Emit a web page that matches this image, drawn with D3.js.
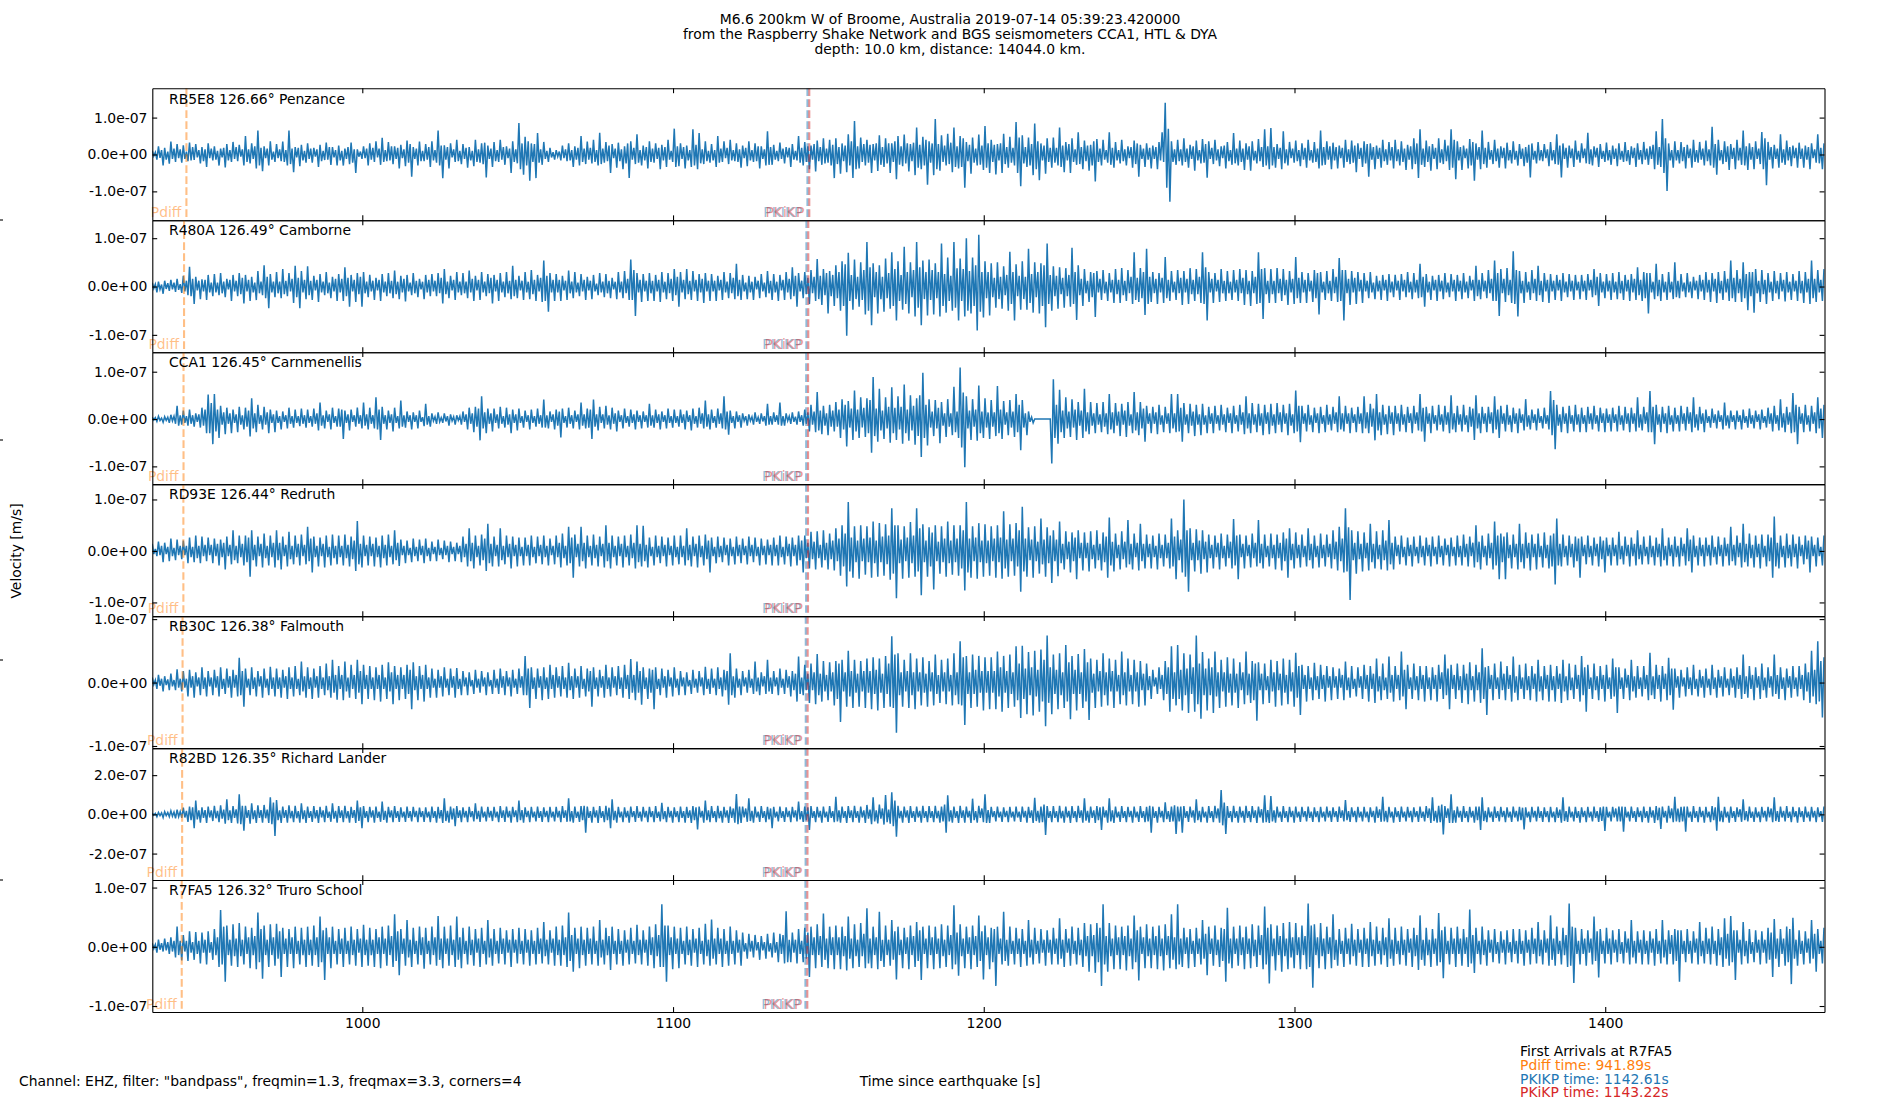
<!DOCTYPE html>
<html>
<head>
<meta charset="utf-8">
<script src="https://cdn.jsdelivr.net/npm/d3@7"></script>
<style>
  body { margin: 0; background: #fff; }
  svg text { font-family: "DejaVu Sans", sans-serif; font-size: 13.9px; }
</style>
</head>
<body>
<div id="chart"></div>
<script>

// Seismograms, M6.6 W of Broome, seen from Cornwall stations

const stations = ["RB5E8", "R480A", "CCA1", "RD93E", "RB30C", "R82BD", "R7FA5"];
const distances = ["126.66", "126.49", "126.45", "126.44", "126.38", "126.35", "126.32"];
const places = ["Penzance", "Camborne", "Carnmenellis", "Redruth", "Falmouth", "Richard Lander", "Truro School"];

// arrival times [s] per station
const pdiffTimes = [943.40, 942.64, 942.47, 942.42, 942.16, 942.02, 941.89];
const pkikpTimes = [1143.26, 1142.93, 1142.86, 1142.84, 1142.72, 1142.67, 1142.61];
const pkikpiTimes = [1143.85, 1143.53, 1143.46, 1143.44, 1143.33, 1143.28, 1143.22];

// y limits [m/s] and y ticks per panel
const yLimits = [[-1.783e-7, 1.794e-7], [-1.359e-7, 1.371e-7], [-1.376e-7, 1.412e-7], [-1.266e-7, 1.297e-7],
  [-1.033e-7, 1.047e-7], [-3.35e-7, 3.38e-7], [-1.101e-7, 1.127e-7]];
const yTickValues = [[-1e-7, 0, 1e-7], [-1e-7, 0, 1e-7], [-1e-7, 0, 1e-7], [-1e-7, 0, 1e-7],
  [-1e-7, 0, 1e-7], [-2e-7, 0, 2e-7], [-1e-7, 0, 1e-7]];
const xTicks = [1000, 1100, 1200, 1300, 1400];
const xDomain = [932.42, 1470.57];

// traces, one value every half second from timeStart, in nm/s (20 values = 10 s per row)
const timeStart = 932.4;
const timeStep = 0.5;

const waveRB5E8 = [
10,-4,6,-14,22,-9,12,-30,18,-14,8,-25,35,-12,16,-20,28,-10,14,-22,
25,-12,8,-18,32,-16,20,-15,28,-8,12,-24,20,-18,14,-34,30,-10,16,-16,
22,-14,10,-30,16,-8,18,-35,28,-16,12,-20,34,-12,20,-18,26,-6,14,-30,
50,-20,14,-24,30,-12,22,-38,65,-30,18,-45,22,-10,16,-30,36,-14,8,-20,
28,-10,14,-18,35,-20,12,-30,65,-26,16,-48,20,-8,18,-32,26,-16,10,-22,
30,-12,16,-22,18,-6,14,-34,26,-18,10,-15,32,-14,20,-28,20,-8,12,-30,
24,-16,10,-30,16,-12,20,-26,32,-22,14,-50,14,-6,8,-12,22,-10,16,-30,
30,-14,18,-20,36,-8,16,-28,45,-20,12,-18,34,-16,22,-26,22,-12,18,-38,
26,-10,14,-32,38,-22,28,-60,20,-12,16,-30,35,-18,10,-18,28,-14,20,-34,
36,-16,12,-22,65,-30,24,-64,25,-14,20,-38,30,-8,14,-20,40,-18,10,-26,
28,-12,18,-36,20,-16,10,-32,40,-20,14,-22,30,-26,32,-62,24,-12,16,-34,
34,-18,12,-20,40,-14,20,-28,22,-10,16,-50,36,-20,14,-24,85,-40,30,-55,
48,-30,36,-71,30,-20,28,-64,58,-22,14,-28,34,-12,10,-20,18,-8,6,-14,
12,-6,8,-16,24,-10,14,-18,30,-16,12,-34,22,-14,18,-30,50,-20,16,-26,
35,-14,18,-24,40,-20,12,-30,59,-26,16,-22,34,-18,24,-50,28,-10,16,-36,
32,-18,14,-40,22,-24,30,-64,36,-14,18,-26,55,-22,12,-30,24,-16,20,-38,
36,-20,16,-22,30,-12,18,-40,26,-16,20,-34,40,-14,10,-20,70,-34,22,-32,
30,-12,20,-38,24,-16,12,-34,68,-30,26,-40,58,-24,14,-26,36,-18,10,-22,
28,-16,12,-34,50,-22,16,-20,36,-10,18,-26,40,-16,12,-18,30,-20,14,-36,
24,-10,18,-32,36,-16,12,-20,30,-18,22,-38,22,-12,14,-30,63,-28,20,-28,
26,-14,10,-18,32,-12,16,-24,20,-8,18,-34,28,-14,10,-16,50,-22,18,-30,
34,-20,22,-40,24,-14,28,-46,38,-18,20,-28,44,-24,16,-22,40,-30,26,-64,
44,-26,20,-52,30,-18,24,-48,55,-30,36,-64,91,-40,22,-38,46,-20,28,-30,
40,-22,26,-50,28,-16,30,-45,52,-28,20,-34,44,-24,30,-50,30,-20,36,-67,
50,-28,22,-32,54,-24,30,-46,28,-18,32,-56,73,-36,26,-40,48,-30,40,-82,
36,-22,30,-56,96,-40,28,-44,52,-20,24,-30,56,-26,32,-48,73,-34,22,-38,
50,-34,44,-90,34,-18,26,-52,46,-22,16,-30,54,-28,24,-42,77,-36,30,-50,
40,-20,26,-54,28,-16,30,-50,56,-26,20,-36,48,-22,18,-30,88,-50,46,-86,
52,-24,20,-34,46,-30,28,-56,84,-40,36,-70,30,-16,24,-52,44,-20,18,-36,
46,-22,18,-30,73,-34,24,-48,34,-16,28,-50,44,-20,14,-28,60,-26,20,-40,
38,-18,24,-44,26,-30,36,-73,42,-20,16,-30,40,-14,12,-22,60,-28,18,-36,
34,-16,12,-24,40,-18,14,-30,22,-10,20,-36,38,-26,30,-60,26,-12,16,-34,
30,-14,18,-38,24,-12,20,-40,34,-16,60,-20,140,-90,70,-128,36,-20,14,-28,
40,-18,14,-30,44,-20,16,-36,26,-12,22,-44,38,-16,12,-24,42,-22,28,-63,
36,-12,18,-26,40,-16,14,-32,22,-10,24,-38,34,-18,12,-28,58,-24,16,-30,
38,-20,16,-42,30,-14,22,-44,36,-16,10,-24,42,-18,20,-34,68,-30,22,-40,
72,-30,20,-36,28,-12,18,-40,63,-24,14,-30,34,-10,16,-22,38,-18,12,-32,
30,-14,18,-36,40,-16,12,-22,34,-20,16,-38,65,-30,20,-28,36,-14,22,-40,
32,-16,20,-38,24,-10,18,-36,40,-20,14,-26,38,-22,24,-48,30,-12,18,-34,
36,-24,28,-60,30,-14,20,-40,24,-12,18,-36,40,-18,14,-28,34,-16,20,-38,
40,-18,14,-30,36,-20,16,-42,26,-14,22,-40,44,-26,30,-64,68,-28,16,-34,
38,-20,22,-44,28,-12,18,-40,44,-22,14,-26,40,-18,24,-42,68,-36,40,-67,
36,-16,20,-42,24,-10,16,-38,42,-30,34,-71,30,-14,20,-40,65,-26,18,-36,
34,-14,12,-26,40,-18,16,-36,22,-10,18,-38,32,-16,12,-24,36,-14,10,-30,
28,-12,16,-32,20,-22,26,-62,30,-14,10,-24,34,-16,12,-18,28,-10,14,-32,
34,-16,12,-26,55,-28,24,-62,30,-12,18,-36,24,-10,16,-34,38,-14,10,-22,
30,-10,16,-24,59,-26,14,-30,22,-8,18,-34,28,-12,10,-20,32,-16,12,-28,
24,-12,16,-32,30,-14,10,-20,34,-18,12,-28,22,-10,18,-34,30,-14,12,-26,
34,-14,16,-28,22,-12,26,-40,63,-28,20,-34,96,-50,44,-99,30,-16,12,-36,
36,-16,12,-24,34,-18,20,-38,26,-10,16,-36,40,-20,12,-22,34,-14,16,-30,
38,-18,14,-30,75,-36,28,-55,40,-16,12,-26,36,-20,22,-42,28,-12,18,-40,
40,-16,18,-28,65,-30,22,-42,30,-14,20,-40,36,-12,16,-26,61,-40,44,-83,
34,-14,20,-38,26,-12,16,-36,55,-22,14,-28,38,-16,20,-32,24,-10,18,-36,
32,-12,16,-36,24,-14,20,-40,30,-10,14,-22,55,-24,18,-40,30];

const waveR480A = [
8,-4,5,-12,10,-6,4,-15,12,-5,7,-9,14,-6,8,-11,16,-7,5,-13,
22,-10,12,-18,41,-20,16,-36,20,-8,12,-26,15,-10,14,-28,24,-12,8,-20,
26,-12,8,-18,28,-14,10,-22,16,-6,14,-30,24,-10,12,-20,28,-16,18,-35,
24,-10,14,-30,20,-12,8,-28,32,-14,10,-18,44,-24,20,-45,26,-12,10,-22,
30,-14,10,-24,36,-16,12,-20,28,-10,16,-34,43,-22,18,-45,32,-12,14,-26,
42,-18,12,-28,22,-8,14,-32,26,-12,10,-18,30,-14,8,-24,20,-10,16,-30,
26,-12,16,-30,40,-20,18,-42,24,-10,14,-32,28,-16,20,-42,30,-14,10,-22,
24,-10,12,-28,18,-8,14,-30,26,-12,10,-20,28,-14,12,-24,33,-16,10,-26,
22,-12,16,-31,24,-10,8,-18,28,-14,12,-22,16,-6,10,-26,24,-12,14,-20,
26,-10,12,-20,28,-14,18,-35,36,-16,10,-24,22,-8,14,-28,30,-12,10,-18,
28,-14,10,-24,33,-12,16,-30,22,-8,14,-28,30,-12,10,-20,26,-14,18,-35,
24,-10,14,-30,28,-12,10,-22,30,-14,12,-26,43,-20,14,-24,22,-8,12,-28,
30,-12,10,-26,34,-16,14,-30,24,-10,18,-32,54,-30,22,-52,28,-12,14,-30,
26,-12,14,-30,22,-8,12,-28,33,-14,10,-24,30,-12,8,-20,26,-10,14,-28,
20,-8,12,-26,24,-10,6,-18,28,-12,10,-22,26,-14,12,-24,18,-6,10,-26,
30,-12,10,-24,32,-14,16,-28,56,-28,34,-61,28,-12,14,-32,26,-10,12,-30,
28,-14,12,-30,24,-10,14,-32,30,-12,10,-26,28,-14,16,-30,36,-18,20,-42,
30,-12,14,-26,36,-16,12,-28,32,-10,14,-30,26,-12,16,-34,28,-10,12,-30,
26,-10,12,-30,22,-8,14,-28,30,-12,10,-24,28,-14,18,-26,47,-20,14,-28,
24,-10,8,-26,22,-12,10,-28,20,-6,12,-24,26,-10,8,-22,32,-14,12,-28,
26,-12,10,-30,24,-8,14,-28,30,-12,16,-26,40,-20,22,-42,28,-10,12,-24,
30,-16,18,-36,34,-14,20,-30,57,-26,22,-38,36,-18,28,-56,32,-20,24,-40,
44,-24,30,-50,52,-40,46,-102,70,-30,24,-48,56,-26,20,-42,50,-28,34,-58,
92,-50,40,-80,48,-22,30,-56,44,-26,20,-52,58,-24,28,-46,71,-40,36,-70,
52,-30,24,-48,82,-36,30,-56,50,-22,34,-62,92,-44,40,-80,54,-26,30,-60,
56,-28,34,-58,48,-24,30,-62,89,-40,26,-54,60,-30,22,-50,92,-44,38,-70,
58,-30,36,-62,100,-50,32,-56,60,-40,44,-91,107,-52,30,-64,52,-24,30,-60,
48,-22,18,-44,50,-26,20,-46,42,-18,24,-50,72,-36,30,-70,46,-20,22,-48,
52,-26,20,-48,78,-34,26,-54,50,-22,30,-56,48,-40,44,-84,89,-36,24,-50,
42,-20,22,-46,40,-16,18,-44,38,-20,24,-42,80,-36,30,-69,44,-18,16,-40,
36,-14,12,-32,30,-22,28,-63,32,-12,16,-28,34,-14,10,-30,28,-12,14,-34,
36,-16,14,-34,38,-18,12,-30,34,-14,20,-36,71,-28,18,-32,38,-24,30,-59,
78,-36,20,-32,30,-14,16,-36,28,-12,18,-34,61,-24,14,-30,32,-12,10,-28,
34,-14,18,-38,32,-12,16,-36,38,-16,14,-30,36,-16,20,-34,71,-36,40,-70,
30,-12,16,-34,28,-10,14,-32,36,-14,12,-30,32,-14,10,-28,34,-12,14,-30,
36,-14,18,-38,34,-16,12,-40,32,-14,20,-36,71,-34,36,-67,38,-16,12,-34,
36,-16,12,-34,38,-14,16,-30,36,-18,14,-38,32,-12,16,-36,61,-24,18,-34,
30,-12,14,-34,28,-10,12,-32,34,-24,28,-58,30,-12,10,-28,32,-14,12,-30,
36,-14,20,-32,59,-30,34,-70,34,-14,16,-38,32,-12,18,-36,30,-10,14,-34,
28,-10,12,-24,30,-12,8,-26,22,-10,12,-28,24,-8,14,-30,26,-12,10,-22,
24,-8,12,-28,26,-10,14,-22,30,-12,10,-26,28,-12,14,-24,47,-22,20,-42,
26,-12,10,-28,22,-8,14,-30,24,-10,12,-26,28,-12,8,-22,26,-10,14,-30,
24,-10,12,-26,28,-12,10,-24,22,-8,14,-30,43,-20,14,-26,28,-10,12,-24,
34,-14,16,-30,54,-30,28,-61,36,-14,16,-32,38,-18,14,-34,73,-36,34,-62,
32,-14,12,-34,30,-12,10,-28,34,-14,16,-30,43,-18,12,-32,28,-10,14,-34,
26,-10,12,-28,24,-8,14,-30,28,-12,10,-22,26,-10,12,-28,24,-8,10,-26,
24,-10,12,-28,26,-8,14,-22,36,-18,20,-40,28,-12,10,-24,26,-10,12,-28,
28,-12,10,-26,30,-14,12,-28,24,-10,14,-30,26,-12,16,-28,40,-18,14,-30,
30,-24,28,-56,28,-12,10,-26,47,-20,14,-30,26,-12,10,-28,30,-12,10,-26,
50,-22,12,-24,26,-10,8,-22,28,-12,10,-24,20,-8,12,-26,24,-10,14,-28,
30,-12,14,-32,28,-10,16,-34,30,-14,12,-28,32,-12,16,-30,54,-24,18,-32,
34,-14,16,-32,50,-24,26,-49,30,-20,30,-54,36,-14,12,-32,34,-16,14,-36,
28,-12,10,-30,32,-14,12,-26,28,-10,14,-31,30,-12,10,-28,26,-10,12,-30,
32,-14,12,-34,30,-12,16,-36,54,-24,16,-32,34,-12,14,-30,36];

const waveCCA1 = [
4,-2,3,-5,6,-3,2,-7,5,-3,4,-8,9,-4,6,-10,28,-14,8,-12,
18,-8,6,-14,20,-10,8,-16,12,-6,10,-18,24,-14,20,-30,52,-30,34,-53,
53,-26,20,-40,28,-12,14,-32,24,-10,12,-30,20,-8,10,-28,26,-12,8,-22,
24,-16,18,-37,44,-20,12,-28,30,-10,8,-22,26,-12,14,-30,20,-8,10,-28,
18,-8,6,-22,16,-6,8,-20,24,-10,6,-18,20,-8,6,-15,22,-10,8,-18,
20,-8,6,-16,22,-10,12,-24,35,-14,8,-20,18,-6,10,-22,24,-8,6,-16,
22,-16,20,-42,18,-8,10,-24,20,-6,8,-16,24,-10,8,-20,35,-14,10,-22,
24,-10,8,-20,46,-22,20,-44,26,-10,8,-22,18,-8,10,-26,24,-8,6,-20,
39,-16,8,-18,16,-6,8,-22,14,-6,8,-20,18,-6,4,-15,32,-12,6,-16,
12,-4,5,-10,14,-6,3,-8,12,-5,6,-14,10,-4,5,-12,8,-3,6,-12,
16,-6,10,-22,24,-10,12,-28,26,-16,22,-45,48,-20,14,-30,22,-10,12,-26,
22,-8,10,-20,26,-10,6,-18,24,-12,10,-30,20,-8,10,-24,22,-8,6,-18,
18,-6,8,-22,20,-8,6,-16,22,-10,8,-18,41,-18,8,-20,16,-6,10,-22,
20,-14,16,-39,22,-8,6,-18,24,-10,8,-20,18,-6,10,-22,35,-14,10,-20,
22,-18,20,-42,41,-16,10,-24,26,-8,10,-20,28,-12,8,-22,24,-10,12,-26,
18,-6,8,-20,22,-8,6,-16,20,-8,10,-22,18,-6,8,-20,16,-6,8,-18,
32,-14,8,-18,20,-8,10,-22,16,-6,8,-20,22,-8,6,-18,20,-8,6,-16,
20,-8,10,-22,18,-6,8,-24,22,-10,6,-18,24,-10,12,-20,39,-16,10,-22,
20,-8,6,-18,22,-10,12,-20,48,-22,16,-33,18,-8,6,-20,16,-6,8,-18,
12,-4,6,-14,10,-4,5,-12,14,-6,4,-10,12,-5,6,-14,32,-12,6,-12,
14,-6,8,-12,35,-14,6,-14,12,-4,6,-10,14,-6,5,-12,16,-6,8,-14,
20,-10,14,-26,30,-12,16,-28,57,-24,18,-32,28,-14,12,-34,30,-16,18,-26,
36,-16,20,-40,42,-22,30,-58,38,-18,22,-44,60,-26,20,-40,46,-18,24,-38,
44,-30,40,-71,89,-36,22,-48,64,-24,18,-42,46,-20,26,-50,67,-30,24,-44,
48,-22,26,-52,73,-30,20,-46,50,-24,28,-54,44,-36,50,-80,98,-40,30,-56,
42,-18,16,-36,40,-20,24,-51,36,-14,12,-38,42,-16,12,-34,68,-28,16,-40,
109,-60,56,-102,48,-20,18,-44,42,-16,20,-46,71,-30,16,-40,44,-18,14,-42,
40,-16,14,-36,70,-30,20,-42,38,-12,14,-34,40,-18,16,-38,53,-28,30,-66,
40,-18,12,-34,16,-6,4,-8,0,0,0,0,0,0,0,0,0,0,0,-94,
84,-40,30,-52,62,-28,18,-40,46,-20,16,-38,42,-18,20,-44,36,-14,18,-40,
64,-26,14,-32,36,-14,12,-30,34,-12,10,-28,36,-16,12,-32,53,-22,14,-30,
34,-14,16,-36,32,-12,18,-38,36,-14,10,-30,57,-24,14,-34,36,-20,22,-48,
28,-10,12,-30,26,-10,14,-32,30,-12,8,-28,26,-10,12,-30,53,-20,12,-28,
53,-26,24,-48,34,-12,10,-30,32,-14,16,-36,30,-12,10,-34,32,-12,8,-30,
26,-10,12,-30,28,-10,8,-24,30,-12,10,-28,24,-8,12,-30,28,-10,8,-26,
30,-12,14,-32,48,-20,12,-30,34,-12,10,-28,32,-14,12,-34,30,-10,14,-32,
32,-14,10,-30,34,-12,14,-28,30,-10,12,-34,32,-14,10,-30,60,-26,28,-49,
28,-10,12,-26,30,-12,8,-28,24,-8,12,-30,26,-10,8,-28,30,-12,10,-24,
26,-10,14,-28,48,-22,12,-26,28,-10,12,-30,24,-8,10,-28,26,-10,12,-30,
48,-20,14,-30,32,-16,22,-45,53,-24,14,-34,30,-12,10,-32,28,-10,14,-34,
28,-10,12,-26,30,-12,10,-28,26,-8,12,-30,28,-10,14,-24,53,-26,24,-48,
26,-10,12,-30,28,-10,8,-24,30,-12,10,-26,28,-12,14,-30,50,-22,12,-28,
28,-12,10,-26,30,-12,8,-28,26,-16,22,-44,50,-20,12,-30,26,-10,12,-28,
26,-10,14,-30,48,-22,20,-40,28,-10,12,-26,30,-12,8,-28,24,-10,12,-30,
22,-8,10,-24,42,-16,8,-22,20,-8,10,-24,22,-8,6,-20,24,-10,8,-22,
59,-34,40,-64,30,-14,10,-28,26,-10,12,-30,28,-10,8,-26,30,-12,10,-28,
24,-10,8,-28,26,-10,12,-22,28,-10,8,-26,24,-8,12,-28,22,-8,10,-26,
24,-8,10,-26,28,-12,8,-24,26,-10,12,-28,24,-10,12,-26,46,-18,10,-24,
26,-10,14,-28,59,-28,26,-53,30,-12,10,-28,26,-10,12,-30,28,-12,8,-26,
24,-10,8,-26,28,-10,12,-24,26,-10,14,-28,46,-18,10,-24,26,-10,12,-28,
20,-8,6,-18,22,-8,10,-20,18,-6,8,-22,35,-14,8,-20,18,-6,8,-22,
18,-6,8,-22,20,-8,6,-18,22,-10,8,-20,18,-6,10,-22,20,-8,6,-18,
24,-10,12,-26,28,-10,8,-24,42,-18,12,-28,26,-12,14,-30,55,-28,30,-53,
26,-10,12,-28,30,-12,8,-26,28,-10,14,-30,46,-20,22,-40,30];

const waveRD93E = [
14,-6,4,-10,18,-8,10,-22,16,-6,8,-20,24,-10,6,-18,22,-8,10,-16,
20,-8,10,-24,26,-12,8,-22,30,-14,10,-24,28,-10,12,-20,26,-8,12,-24,
24,-10,14,-28,22,-12,16,-36,28,-10,12,-26,40,-18,10,-24,30,-12,14,-28,
30,-22,26,-50,40,-18,12,-30,28,-10,14,-32,34,-14,10,-28,30,-12,16,-32,
40,-18,16,-36,28,-10,12,-30,37,-16,10,-26,30,-12,14,-28,32,-10,12,-26,
47,-20,24,-42,28,-12,10,-30,26,-10,14,-32,30,-12,8,-28,32,-14,10,-26,
30,-12,10,-28,32,-14,12,-30,28,-16,20,-39,58,-26,14,-32,30,-10,12,-28,
28,-10,14,-30,26,-12,10,-32,30,-14,12,-28,32,-12,10,-26,40,-18,16,-29,
22,-8,10,-24,20,-8,6,-22,24,-10,8,-20,22,-8,10,-24,24,-10,6,-20,
18,-6,8,-20,22,-8,6,-16,20,-8,10,-22,18,-6,8,-20,16,-6,10,-22,
28,-12,14,-30,44,-20,16,-34,30,-12,10,-28,32,-18,24,-39,53,-24,14,-30,
28,-10,12,-30,44,-18,10,-26,30,-12,14,-34,28,-10,12,-30,26,-10,8,-28,
26,-10,12,-28,30,-12,8,-24,28,-10,12,-26,30,-12,10,-28,24,-8,10,-26,
30,-12,16,-32,34,-14,10,-28,47,-24,26,-52,32,-12,14,-30,47,-20,16,-34,
30,-12,10,-28,32,-14,12,-30,28,-10,14,-32,50,-20,16,-34,30,-12,10,-28,
28,-10,14,-32,30,-12,10,-28,32,-14,16,-34,50,-22,14,-30,49,-20,12,-32,
26,-10,8,-28,30,-12,10,-24,28,-10,12,-30,26,-8,10,-28,30,-12,8,-26,
30,-12,10,-28,44,-18,12,-30,28,-10,14,-32,30,-12,10,-28,32,-16,20,-42,
26,-10,8,-24,28,-12,10,-22,26,-8,12,-28,24,-10,8,-26,28,-10,12,-24,
24,-8,10,-26,28,-10,12,-22,26,-10,8,-28,24,-8,10,-26,22,-8,12,-28,
26,-10,12,-28,30,-12,8,-26,28,-10,14,-30,26,-10,12,-28,30,-18,20,-42,
30,-14,16,-34,37,-16,18,-36,38,-14,12,-32,40,-18,16,-36,34,-16,20,-38,
44,-20,24,-48,50,-30,34,-69,95,-40,26,-52,48,-22,20,-54,50,-20,24,-46,
48,-22,26,-52,57,-24,20,-50,54,-22,28,-48,52,-26,30,-56,83,-44,50,-92,
50,-24,22,-54,48,-20,26,-52,56,-24,30,-50,83,-40,44,-86,52,-22,20,-50,
46,-30,36,-75,50,-20,18,-44,48,-22,24,-50,57,-24,20,-46,50,-22,24,-48,
50,-34,40,-77,95,-42,24,-52,48,-20,26,-54,54,-22,20,-50,52,-24,20,-48,
48,-20,24,-52,50,-22,26,-54,77,-34,22,-50,52,-20,24,-48,54,-30,40,-79,
86,-40,24,-50,46,-18,22,-52,48,-20,18,-44,63,-26,22,-50,46,-24,30,-62,
40,-20,22,-49,57,-24,14,-36,38,-16,18,-42,36,-20,26,-55,40,-14,16,-38,
36,-14,16,-40,38,-16,12,-34,40,-18,14,-38,36,-22,28,-52,65,-28,18,-40,
34,-14,12,-36,38,-16,18,-32,60,-26,14,-36,34,-12,16,-38,53,-20,14,-34,
32,-12,14,-34,30,-12,10,-36,34,-14,12,-30,32,-14,16,-34,63,-30,28,-55,
40,-18,22,-42,100,-50,40,-79,44,-18,16,-40,42,-18,20,-44,40,-16,18,-42,
32,-14,12,-34,30,-12,16,-36,34,-14,10,-30,32,-14,18,-34,62,-28,30,-55,
32,-12,14,-34,30,-10,12,-32,34,-14,16,-30,60,-24,14,-34,32,-12,10,-30,
34,-14,12,-36,32,-14,16,-38,36,-20,24,-52,44,-18,14,-34,36,-14,12,-32,
32,-12,10,-30,44,-18,14,-34,30,-12,10,-32,34,-14,12,-30,32,-12,14,-34,
40,-16,18,-38,47,-20,24,-42,83,-40,46,-95,40,-18,16,-44,38,-16,14,-40,
36,-14,16,-38,53,-22,14,-34,38,-16,12,-36,40,-18,20,-38,60,-26,16,-36,
28,-10,12,-26,30,-12,8,-28,26,-10,12,-30,28,-10,8,-24,30,-12,10,-28,
26,-10,12,-30,28,-10,8,-26,30,-12,10,-28,24,-8,12,-30,26,-10,8,-28,
30,-12,10,-28,32,-12,14,-30,28,-10,16,-32,50,-22,18,-36,30,-12,10,-28,
34,-14,16,-36,57,-28,30,-55,34,-22,28,-55,36,-14,12,-34,32,-12,14,-36,
53,-22,14,-34,36,-14,16,-38,32,-12,14,-36,34,-12,10,-32,36,-14,12,-34,
30,-30,34,-65,63,-28,14,-30,32,-12,10,-28,30,-12,14,-32,28,-20,24,-52,
28,-10,12,-26,30,-12,10,-28,26,-10,14,-30,28,-16,20,-42,26,-10,12,-28,
26,-10,12,-28,37,-16,10,-26,28,-10,12,-30,26,-10,14,-28,40,-16,12,-26,
28,-10,8,-26,30,-12,10,-28,26,-12,14,-30,44,-18,10,-28,26,-10,12,-30,
28,-12,10,-30,26,-10,14,-28,44,-20,22,-42,30,-12,10,-28,26,-10,12,-30,
26,-10,12,-28,30,-12,8,-26,28,-10,12,-30,26,-10,14,-28,47,-20,12,-28,
30,-12,16,-32,53,-22,14,-30,34,-14,12,-32,30,-12,14,-34,32,-12,10,-30,
32,-20,26,-52,67,-30,16,-34,30,-12,10,-32,34,-14,12,-30,32,-12,14,-34,
28,-10,12,-26,30,-16,20,-42,28,-10,12,-30,26,-10,8,-28,30];

const waveRB30C = [
8,-3,4,-10,12,-5,6,-14,10,-4,5,-12,14,-6,4,-12,21,-8,6,-14,
18,-8,6,-22,20,-8,10,-24,16,-6,8,-20,24,-10,8,-22,18,-6,8,-20,
20,-8,10,-22,24,-10,6,-18,22,-8,10,-24,20,-8,12,-22,39,-20,18,-38,
22,-8,6,-20,24,-10,8,-22,18,-6,10,-24,22,-8,6,-20,25,-10,8,-22,
22,-10,8,-24,20,-8,10,-26,24,-10,8,-22,26,-10,6,-20,33,-14,10,-24,
24,-10,8,-26,22,-8,10,-24,26,-10,8,-20,30,-12,10,-24,36,-16,12,-27,
26,-10,12,-28,33,-14,8,-24,28,-10,12,-26,36,-16,18,-34,28,-10,12,-26,
26,-10,8,-28,24,-10,12,-30,28,-10,8,-26,32,-14,16,-34,26,-10,12,-28,
24,-10,12,-26,28,-18,20,-42,32,-12,10,-28,26,-10,12,-30,28,-10,8,-24,
22,-8,6,-24,20,-8,10,-22,24,-8,6,-20,22,-8,10,-24,23,-10,6,-20,
18,-6,8,-20,16,-6,4,-18,20,-8,6,-16,18,-6,8,-20,16,-6,4,-18,
20,-8,6,-18,22,-8,10,-20,18,-6,8,-22,20,-8,6,-18,22,-8,10,-20,
42,-20,22,-40,24,-10,8,-26,22,-8,10,-28,24,-10,8,-26,28,-10,12,-24,
24,-8,10,-22,26,-10,8,-24,31,-12,10,-26,22,-8,10,-24,26,-10,6,-22,
22,-14,18,-38,24,-10,8,-22,20,-8,10,-24,28,-10,8,-22,24,-8,10,-20,
26,-10,8,-24,28,-10,12,-26,37,-16,12,-28,33,-16,18,-35,24,-10,8,-26,
22,-16,20,-42,24,-10,6,-20,22,-8,10,-24,20,-6,8,-22,24,-8,6,-20,
18,-6,8,-20,16,-6,4,-18,20,-8,6,-16,18,-6,8,-20,25,-10,6,-18,
22,-8,6,-20,24,-10,8,-22,20,-12,18,-35,46,-20,10,-24,22,-8,6,-20,
18,-6,8,-16,20,-8,6,-18,33,-14,8,-20,16,-6,10,-18,36,-14,8,-18,
18,-6,8,-20,22,-8,6,-18,20,-8,10,-22,18,-12,14,-30,41,-18,8,-20,
28,-12,14,-32,30,-12,16,-34,45,-20,14,-30,34,-14,12,-28,32,-14,16,-36,
34,-26,30,-62,36,-14,16,-38,50,-22,18,-40,36,-16,14,-38,34,-14,18,-40,
38,-16,18,-42,40,-18,20,-44,38,-16,14,-40,42,-18,30,-38,73,-40,44,-79,
46,-20,16,-38,36,-14,18,-40,46,-20,16,-42,38,-14,16,-36,40,-16,14,-38,
34,-14,16,-36,44,-18,12,-32,36,-14,16,-34,38,-14,12,-36,46,-20,16,-34,
65,-36,40,-67,42,-18,16,-40,44,-18,20,-38,42,-16,18,-44,40,-16,18,-42,
40,-16,18,-42,49,-22,24,-46,42,-16,18,-40,44,-18,16,-38,57,-28,30,-56,
58,-26,22,-50,48,-20,24,-52,50,-22,20,-46,52,-30,36,-69,74,-32,24,-50,
44,-18,20,-42,46,-20,16,-40,59,-30,32,-58,42,-18,20,-44,45,-18,16,-40,
53,-30,32,-59,38,-16,14,-40,36,-14,18,-38,46,-20,16,-36,38,-14,18,-40,
36,-14,12,-34,49,-20,16,-36,38,-14,12,-34,36,-14,16,-38,34,-12,14,-36,
30,-12,10,-26,20,-6,8,-18,24,-10,12,-28,34,-18,24,-46,57,-26,16,-36,
59,-26,20,-44,46,-20,22,-48,44,-18,24,-46,74,-34,30,-57,48,-20,22,-44,
38,-20,24,-48,49,-22,16,-40,36,-14,16,-38,40,-16,14,-36,38,-16,14,-40,
32,-12,16,-34,49,-20,14,-32,34,-28,30,-60,32,-12,14,-34,30,-12,10,-32,
36,-14,16,-38,34,-12,14,-36,38,-16,12,-34,36,-14,16,-38,47,-24,26,-51,
28,-10,12,-30,26,-10,8,-28,31,-12,10,-26,28,-10,12,-30,26,-8,10,-28,
24,-8,10,-26,22,-8,12,-28,33,-12,8,-24,26,-10,6,-22,24,-8,10,-26,
28,-10,12,-30,26,-10,14,-32,38,-14,10,-28,30,-12,8,-26,41,-16,12,-30,
26,-10,12,-28,49,-22,20,-42,28,-10,8,-26,30,-12,10,-28,26,-10,12,-30,
26,-10,8,-28,24,-10,12,-30,28,-10,16,-26,44,-20,22,-42,28,-10,12,-26,
30,-12,10,-32,28,-12,14,-34,32,-12,10,-30,28,-12,16,-32,54,-26,24,-51,
26,-10,12,-28,30,-10,8,-26,33,-12,14,-28,26,-10,12,-30,41,-16,10,-28,
28,-10,8,-26,30,-12,10,-28,26,-10,14,-30,36,-14,10,-28,26,-10,12,-30,
28,-12,10,-30,26,-10,14,-32,36,-14,10,-28,30,-12,8,-26,28,-10,12,-30,
42,-20,24,-46,28,-10,8,-26,30,-12,10,-28,26,-10,12,-30,28,-10,8,-26,
38,-22,24,-48,24,-10,8,-26,22,-8,12,-28,36,-14,10,-24,26,-10,8,-22,
26,-10,12,-28,47,-20,10,-26,28,-10,12,-30,26,-10,14,-28,39,-20,22,-43,
22,-8,10,-24,20,-6,8,-22,24,-10,8,-20,28,-10,6,-22,20,-8,10,-24,
22,-8,6,-20,28,-10,8,-24,20,-8,10,-22,24,-8,6,-20,22,-8,10,-24,
24,-10,12,-26,44,-18,10,-24,26,-10,12,-28,24,-8,10,-26,30,-12,8,-24,
24,-8,10,-22,44,-18,12,-26,24,-10,8,-28,22,-8,10,-24,26,-10,8,-22,
26,-10,12,-28,30,-14,16,-32,50,-22,20,-34,65,-30,34,-55,40];

const waveR82BD = [
8,-4,5,-12,10,-6,8,-16,14,-6,10,-12,18,-10,12,-20,24,-12,14,-18,
34,-16,18,-38,40,-30,36,-71,70,-26,20,-42,36,-18,22,-44,40,-16,20,-34,
44,-20,18,-40,46,-22,24,-48,77,-30,20,-44,42,-18,26,-46,102,-50,44,-83,
44,-18,22,-48,56,-24,20,-44,46,-18,22,-42,48,-20,24,-44,87,-50,60,-110,
73,-30,20,-44,40,-18,22,-42,46,-20,18,-40,44,-20,16,-42,56,-24,20,-44,
40,-18,16,-38,42,-20,22,-44,38,-16,20,-40,44,-18,14,-38,56,-22,18,-42,
42,-18,20,-40,44,-20,16,-42,38,-18,22,-44,70,-34,36,-71,42,-18,16,-40,
38,-16,20,-42,40,-18,14,-38,65,-28,18,-42,38,-16,20,-40,42,-18,16,-38,
36,-16,14,-38,40,-18,16,-36,38,-14,18,-40,34,-14,16,-38,36,-16,14,-40,
40,-18,16,-42,38,-20,22,-44,82,-34,18,-42,40,-26,30,-60,42,-18,20,-40,
36,-16,18,-40,38,-14,16,-36,56,-24,18,-38,40,-16,14,-36,38,-16,18,-34,
38,-16,14,-40,42,-18,20,-38,40,-16,18,-42,38,-14,20,-40,70,-30,22,-42,
36,-14,18,-40,38,-16,14,-36,40,-18,16,-38,36,-14,18,-40,38,-16,14,-36,
38,-16,18,-40,42,-18,20,-38,82,-36,16,-42,40,-18,14,-38,42,-30,44,-94,
40,-18,16,-42,38,-16,20,-44,42,-18,16,-40,44,-30,34,-71,77,-30,18,-42,
38,-16,14,-40,36,-16,18,-42,40,-14,16,-38,42,-18,14,-36,38,-16,18,-40,
38,-14,16,-40,42,-18,14,-36,59,-24,16,-40,38,-16,18,-42,36,-14,16,-40,
40,-18,16,-42,38,-18,20,-44,42,-30,36,-77,40,-16,18,-42,70,-30,20,-40,
42,-18,16,-40,44,-20,18,-42,38,-16,20,-44,40,-18,30,-42,104,-50,40,-44,
40,-16,30,-38,82,-34,18,-42,40,-16,14,-38,42,-18,16,-40,38,-26,30,-71,
38,-16,14,-36,40,-18,16,-38,36,-14,18,-40,38,-16,20,-36,65,-26,16,-38,
40,-30,36,-80,42,-18,16,-40,38,-16,18,-42,40,-16,14,-38,42,-18,16,-40,
90,-36,20,-42,40,-18,16,-44,42,-18,20,-40,44,-18,16,-42,40,-16,20,-44,
48,-22,24,-50,87,-36,20,-46,50,-22,30,-52,99,-40,24,-48,112,-60,70,-114,
44,-20,18,-42,40,-16,20,-44,42,-18,16,-38,40,-16,18,-42,44,-18,16,-40,
42,-18,16,-40,44,-20,18,-42,40,-36,50,-94,97,-36,20,-42,40,-18,16,-44,
44,-18,20,-42,40,-16,18,-44,80,-30,16,-42,44,-18,30,-40,102,-44,22,-44,
38,-14,16,-36,40,-16,14,-38,36,-14,18,-40,38,-16,14,-36,40,-16,14,-38,
40,-16,18,-42,38,-18,20,-44,85,-34,18,-42,40,-40,50,-105,42,-18,16,-40,
42,-18,16,-40,44,-20,18,-42,40,-16,18,-44,42,-18,16,-40,44,-18,20,-42,
82,-32,18,-42,40,-18,20,-44,42,-30,36,-80,40,-16,20,-42,82,-36,20,-44,
40,-16,14,-38,42,-18,16,-40,38,-14,18,-42,40,-16,14,-38,42,-18,16,-40,
38,-36,44,-94,40,-18,16,-42,38,-16,18,-40,61,-24,16,-38,40,-36,46,-100,
40,-36,40,-94,42,-18,16,-38,40,-16,20,-42,77,-30,18,-40,38,-16,14,-42,
42,-18,16,-40,44,-20,30,-42,124,-56,60,-100,42,-18,16,-40,44,-18,16,-42,
40,-16,18,-42,44,-18,16,-40,42,-18,20,-44,40,-16,26,-42,97,-40,22,-44,
94,-36,20,-42,40,-16,14,-38,42,-18,16,-40,38,-14,18,-42,40,-16,14,-38,
38,-14,16,-36,40,-18,14,-38,36,-14,16,-40,38,-16,14,-36,40,-16,18,-38,
36,-14,16,-38,40,-18,20,-36,73,-30,16,-38,36,-14,18,-40,38,-16,14,-36,
38,-16,14,-40,36,-14,18,-42,40,-18,26,-38,90,-36,18,-40,38,-16,14,-42,
36,-14,16,-38,40,-16,14,-36,38,-16,18,-40,36,-14,16,-38,40,-18,14,-36,
42,-18,30,-44,87,-34,18,-42,44,-40,50,-102,42,-18,30,-44,102,-44,20,-42,
40,-16,18,-38,42,-18,16,-40,38,-16,18,-42,40,-30,40,-80,87,-34,18,-40,
36,-16,14,-38,40,-18,16,-36,38,-14,18,-40,36,-16,14,-38,40,-16,18,-36,
38,-30,34,-77,36,-16,14,-40,38,-16,18,-36,40,-18,16,-38,36,-14,16,-40,
38,-16,14,-40,36,-18,24,-42,87,-34,16,-38,40,-16,14,-36,38,-18,16,-42,
36,-14,18,-40,38,-16,14,-36,40,-18,16,-38,36,-34,40,-85,38,-16,14,-36,
38,-16,30,-36,40,-36,40,-88,38,-16,14,-36,40,-18,16,-38,36,-14,18,-40,
40,-18,16,-42,38,-16,20,-44,42,-30,34,-75,40,-16,18,-42,44,-20,30,-40,
90,-36,30,-40,38,-36,40,-88,40,-16,14,-38,42,-18,16,-40,38,-14,18,-42,
38,-16,14,-40,42,-30,36,-83,90,-36,18,-40,38,-16,14,-42,40,-18,16,-38,
36,-14,26,-38,77,-30,16,-36,40,-18,14,-38,36,-16,14,-40,38,-16,18,-36,
38,-16,30,-40,87,-34,16,-38,40,-16,18,-36,42,-18,14,-40,38,-14,16,-42,
36,-14,16,-38,40,-16,14,-36,38,-16,18,-40,36,-14,16,-38,40];

const waveR7FA5 = [
6,-3,4,-10,12,-5,6,-8,14,-6,8,-12,16,-8,10,-18,34,-14,10,-23,
20,-8,10,-24,26,-10,8,-22,25,-12,10,-28,24,-10,12,-30,26,-10,8,-22,
30,-14,16,-34,62,-30,34,-59,36,-14,12,-32,38,-16,14,-34,40,-16,12,-30,
34,-12,16,-36,32,-14,18,-38,58,-26,30,-54,36,-14,12,-34,38,-14,16,-32,
39,-20,26,-51,32,-12,14,-34,30,-12,16,-36,34,-12,10,-30,32,-14,12,-34,
34,-14,12,-32,36,-14,16,-34,51,-26,28,-56,32,-12,16,-36,34,-12,10,-30,
30,-12,14,-34,32,-12,10,-30,34,-14,12,-32,30,-10,14,-34,37,-14,12,-32,
32,-14,12,-34,30,-12,16,-36,34,-12,14,-32,36,-14,18,-34,55,-24,26,-48,
30,-12,14,-32,45,-18,12,-34,32,-12,10,-30,34,-14,16,-37,32,-12,10,-30,
34,-14,16,-32,52,-22,14,-36,34,-12,14,-32,36,-14,12,-34,51,-22,16,-36,
32,-12,10,-30,34,-14,12,-32,30,-10,14,-34,32,-12,10,-30,45,-18,14,-32,
30,-12,10,-28,32,-12,14,-30,28,-10,12,-34,30,-10,12,-28,32,-12,10,-30,
30,-10,12,-32,28,-12,10,-30,32,-12,14,-28,42,-16,12,-30,28,-10,14,-32,
34,-14,12,-32,36,-14,16,-34,58,-24,20,-42,32,-12,14,-36,34,-14,12,-32,
32,-12,14,-30,34,-12,10,-32,45,-18,12,-30,32,-14,18,-39,34,-12,10,-30,
30,-12,10,-32,28,-10,12,-30,32,-12,10,-28,37,-14,12,-30,28,-10,12,-32,
34,-14,16,-36,38,-16,20,-34,72,-34,36,-59,36,-14,16,-38,34,-12,14,-36,
32,-12,10,-30,34,-14,12,-32,30,-10,14,-34,32,-12,10,-30,39,-16,12,-32,
46,-20,14,-30,32,-12,14,-34,30,-12,10,-32,34,-12,10,-30,28,-10,12,-32,
24,-8,6,-20,22,-8,10,-18,20,-6,8,-22,18,-6,8,-20,22,-8,6,-18,
24,-10,8,-26,22,-12,20,-28,60,-26,12,-26,24,-10,12,-28,30,-12,10,-26,
32,-20,24,-51,34,-14,16,-36,38,-14,18,-34,56,-22,14,-36,34,-14,16,-38,
36,-14,16,-38,34,-16,18,-40,51,-20,14,-36,38,-16,12,-34,40,-16,22,-36,
65,-28,14,-36,34,-14,16,-38,59,-24,12,-34,36,-14,12,-32,45,-22,26,-55,
34,-14,12,-36,32,-12,16,-38,36,-14,18,-34,42,-24,28,-56,34,-12,14,-36,
36,-14,16,-38,34,-12,14,-36,38,-16,12,-34,36,-14,20,-38,70,-30,24,-49,
38,-16,14,-36,34,-12,16,-38,36,-14,18,-34,53,-24,26,-55,36,-14,16,-38,
32,-26,30,-66,34,-12,14,-30,59,-24,12,-32,34,-12,10,-30,32,-12,14,-34,
30,-12,10,-32,45,-18,12,-30,32,-12,10,-28,30,-10,12,-32,28,-10,12,-30,
32,-12,14,-30,48,-20,12,-34,30,-10,14,-32,34,-12,10,-30,32,-14,12,-34,
40,-16,18,-42,38,-16,20,-44,40,-26,32,-66,72,-30,18,-42,40,-16,14,-38,
36,-14,16,-38,34,-14,18,-40,36,-16,14,-38,53,-26,28,-57,34,-12,16,-36,
38,-16,14,-36,34,-14,18,-38,36,-16,14,-40,38,-14,18,-36,55,-22,16,-38,
72,-30,14,-34,32,-12,16,-36,30,-12,10,-34,32,-12,14,-30,45,-20,22,-48,
34,-12,14,-32,36,-14,12,-34,32,-24,30,-59,66,-28,14,-36,34,-12,14,-32,
36,-14,16,-38,34,-12,14,-36,38,-16,12,-34,36,-14,20,-38,68,-30,32,-62,
38,-16,14,-40,36,-14,18,-42,40,-16,14,-38,42,-18,16,-36,40,-14,16,-38,
36,-14,18,-38,73,-34,36,-69,38,-14,16,-36,40,-16,14,-38,34,-12,16,-36,
55,-22,12,-32,30,-12,10,-34,32,-12,14,-30,39,-16,12,-32,30,-10,12,-34,
32,-12,14,-34,42,-16,12,-32,34,-12,10,-30,32,-14,16,-34,48,-20,12,-32,
32,-12,10,-30,34,-14,12,-32,30,-10,14,-34,32,-16,20,-39,53,-22,12,-32,
32,-14,12,-34,30,-12,14,-32,57,-26,28,-53,34,-12,10,-30,32,-12,14,-34,
34,-12,14,-32,30,-12,16,-34,63,-28,20,-44,32,-12,10,-30,34,-14,12,-32,
28,-10,12,-26,30,-12,8,-28,26,-10,12,-30,28,-10,8,-26,30,-12,10,-28,
30,-12,10,-32,28,-10,12,-30,32,-12,14,-28,42,-16,12,-30,28,-10,14,-32,
53,-22,14,-32,34,-12,10,-30,32,-14,20,-34,73,-32,34,-61,32,-12,10,-30,
30,-12,14,-32,28,-10,14,-30,51,-24,26,-52,30,-12,10,-28,32,-12,14,-30,
28,-10,12,-26,30,-12,8,-28,26,-10,14,-30,45,-18,10,-28,26,-10,12,-30,
28,-12,10,-30,26,-10,14,-32,30,-12,10,-28,45,-18,12,-30,28,-12,20,-30,
30,-24,28,-59,28,-12,10,-26,30,-12,10,-28,26,-10,14,-30,42,-16,10,-28,
32,-12,14,-30,34,-12,10,-32,30,-14,16,-34,48,-20,22,-32,52,-26,28,-56,
28,-10,12,-30,42,-16,10,-28,30,-12,8,-26,28,-10,12,-30,26,-10,12,-28,
32,-22,24,-51,47,-20,14,-34,30,-12,14,-32,34,-26,30,-63,49,-20,12,-32,
28,-12,10,-30,26,-10,14,-28,45,-20,22,-42,30,-12,10,-28,32];

const waves = [waveRB5E8, waveR480A, waveCCA1, waveRD93E, waveRB30C, waveR82BD, waveR7FA5];

const titleLines = ["M6.6 200km W of Broome, Australia 2019-07-14 05:39:23.420000",
  "from the Raspberry Shake Network and BGS seismometers CCA1, HTL & DYA",
  "depth: 10.0 km, distance: 14044.0 km."];

const [w, h] = [1900, 1100];
const [axLeft, axRight, axTop, axBottom] = [152.3, 1824.5, 88.3, 1012];
const panelH = (axBottom - axTop) / stations.length;
const tickLen = 4.9;
const [traceColor, pdiffColor, pkikpColor, pkikpiColor] = ["#1f77b4", "#ff7f0e", "#1f77b4", "#d62728"];

// matplotlib style "%.1e"
const sciFormat = v => v.toExponential(1).replace(/e([+-])(\d)$/, "e$10$2");

const svg = d3.select("#chart").
append("svg").
attr("width", w).
attr("height", h).
style("background", "#fff");

const xScale = d3.scaleLinear().
domain(xDomain).
range([axLeft, axRight]);

const arrivals = [
  { name: "Pdiff", times: pdiffTimes, color: pdiffColor },
  { name: "PKIKP", times: pkikpTimes, color: pkikpColor },
  { name: "PKiKP", times: pkikpiTimes, color: pkikpiColor }];

stations.forEach((st, i) => {
  let y0 = axTop + i * panelH;
  let y1 = y0 + panelH;
  const yScale = d3.scaleLinear().domain(yLimits[i]).range([y1, y0]);
  const g = svg.append("g").attr("class", "panel");

  g.append("clipPath").
  attr("id", "clip" + i).
  append("rect").
  attr("x", axLeft).
  attr("y", y0).
  attr("width", axRight - axLeft).
  attr("height", panelH);

  let points = waves[i].map((v, k) => [timeStart + k * timeStep, v * 1e-9]);
  const line = d3.line().
  x(d => xScale(d[0])).
  y(d => yScale(d[1]));

  g.append("path").
  datum(points).
  attr("clip-path", `url(#clip${i})`).
  attr("d", line).
  attr("fill", "none").
  attr("stroke", traceColor).
  attr("stroke-width", 1.5).
  attr("stroke-linejoin", "miter");

  // arrival markers
  arrivals.forEach(a => {
    let x = xScale(a.times[i]);
    g.append("line").
    attr("x1", x).attr("x2", x).
    attr("y1", y0).attr("y2", y1).
    attr("stroke", a.color).
    attr("stroke-opacity", 0.5).
    attr("stroke-width", 2.08).
    attr("stroke-dasharray", "7.7,3.3");
    g.append("text").
    attr("x", x - 5).
    attr("y", y1 - 3.3).
    attr("text-anchor", "end").
    attr("fill", a.color).
    attr("fill-opacity", 0.5).
    text(a.name);
  });

  // axes, ticks pointing in
  const yTicks = yTickValues[i];
  g.append("g").
  attr("transform", `translate(${axLeft},0)`).
  call(d3.axisLeft(yScale).tickValues(yTicks).tickFormat(sciFormat).tickSize(-tickLen).tickSizeOuter(0).tickPadding(4.9));
  g.append("g").
  attr("transform", `translate(${axRight},0)`).
  call(d3.axisRight(yScale).tickValues(yTicks).tickFormat("").tickSize(-tickLen).tickSizeOuter(0));
  g.append("g").
  attr("transform", `translate(0,${y0})`).
  call(d3.axisTop(xScale).tickValues(xTicks).tickFormat("").tickSize(-tickLen).tickSizeOuter(0));
  g.append("g").
  attr("transform", `translate(0,${y1})`).
  call(d3.axisBottom(xScale).tickValues(xTicks).
  tickFormat(i === stations.length - 1 ? d3.format("d") : "").
  tickSize(-tickLen).tickSizeOuter(0).tickPadding(6.1));

  g.selectAll(".domain").attr("stroke-width", 1.1);
  g.selectAll(".tick line").attr("stroke-width", 1.1);

  g.append("text").
  attr("x", axLeft + 16.7).
  attr("y", y0 + 15.2).
  attr("fill", "#000").
  text(`${st} ${distances[i]}° ${places[i]}`);
});

svg.selectAll(".tick text").attr("fill", "#000");

// figure texts
svg.selectAll("text.title").
data(titleLines).
enter().
append("text").
attr("class", "title").
attr("x", 950).
attr("y", (d, k) => 23.5 + k * 15).
attr("text-anchor", "middle").
text(d => d);

svg.append("text").
attr("transform", "translate(21,551) rotate(-90)").
attr("text-anchor", "middle").
text("Velocity [m/s]");

// ticks of the background axes, at the very left edge
[0.2, 0.4, 0.6, 0.8].forEach(f => {
  svg.append("line").
  attr("x1", 0).attr("x2", 3).
  attr("y1", h * (1 - f)).attr("y2", h * (1 - f)).
  attr("stroke", "#000").
  attr("stroke-width", 1.1);
});

svg.append("text").
attr("x", 19).
attr("y", 1086).
text('Channel: EHZ, filter: "bandpass", freqmin=1.3, freqmax=3.3, corners=4');

svg.append("text").
attr("x", 950).
attr("y", 1086).
attr("text-anchor", "middle").
text("Time since earthquake [s]");

const legendLines = [
  { text: "First Arrivals at R7FA5", color: "#000" },
  { text: `Pdiff time: ${pdiffTimes[6].toFixed(2)}s`, color: pdiffColor },
  { text: `PKIKP time: ${pkikpTimes[6].toFixed(2)}s`, color: pkikpColor },
  { text: `PKiKP time: ${pkikpiTimes[6].toFixed(2)}s`, color: pkikpiColor }];

svg.selectAll("text.legend").
data(legendLines).
enter().
append("text").
attr("class", "legend").
attr("x", 1520).
attr("y", (d, k) => 1056 + k * 13.8).
attr("fill", d => d.color).
text(d => d.text);

</script>
</body>
</html>
